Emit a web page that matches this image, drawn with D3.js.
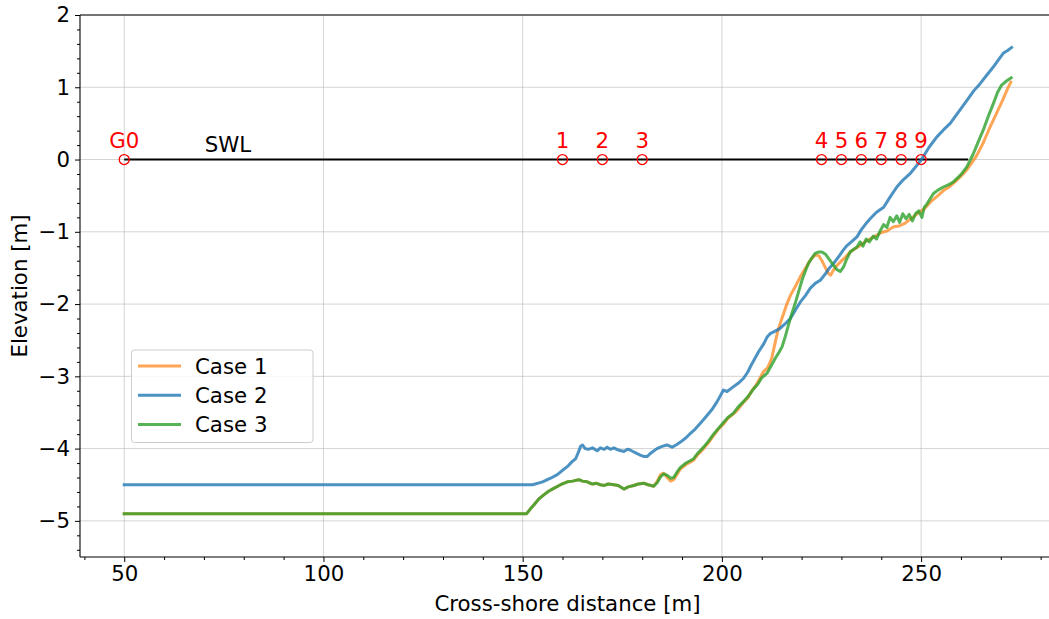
<!DOCTYPE html>
<html><head><meta charset="utf-8">
<script src="https://cdn.jsdelivr.net/npm/d3@7"></script>
<style>body{margin:0;background:#fff}svg{display:block}text{font-family:"DejaVu Sans",sans-serif}</style>
</head><body><svg id="c" width="1049" height="619"></svg>
<script>
const case1X = [50,151,152,152.8,154,155.3,156.5,157.8,159.5,161.2,162.5,164.1,165,166.2,167.5,168.5,169.5,170.5,171.5,172.9,174,175.4,176.5,177.9,179,180.4,181.5,182.9,183.8,184.6,185.4,186.3,187.1,187.9,188.8,189.6,191,192.9,194,195.4,196.6,197.9,199,200.4,201.5,202.9,204,205.4,206.5,207.5,208.5,209.5,210.5,211.5,212.5,213.3,214,214.8,215.5,216.3,217.2,218.4,219.7,221,222.2,223.4,224.3,225.1,226,226.8,227.3,228,228.8,229.7,231,232.2,233.5,235,236.4,237.5,238.8,240,241.4,243.1,244.5,246,248.1,249.5,250.8,252.5,254,255.6,257,258.5,260,261.5,262.8,263.9,265.5,267.3,269,270.6,271.7,272.5];
const case1Y = [-4.9,-4.9,-4.83,-4.78,-4.7,-4.64,-4.59,-4.55,-4.5,-4.46,-4.45,-4.43,-4.45,-4.46,-4.49,-4.48,-4.5,-4.51,-4.49,-4.5,-4.51,-4.56,-4.53,-4.51,-4.49,-4.48,-4.5,-4.52,-4.45,-4.36,-4.34,-4.4,-4.45,-4.43,-4.35,-4.28,-4.22,-4.16,-4.08,-4.0,-3.92,-3.82,-3.74,-3.66,-3.58,-3.52,-3.46,-3.36,-3.3,-3.2,-3.13,-3.03,-2.93,-2.88,-2.75,-2.55,-2.38,-2.24,-2.13,-2.0,-1.88,-1.76,-1.62,-1.5,-1.39,-1.32,-1.33,-1.4,-1.5,-1.58,-1.6,-1.53,-1.47,-1.42,-1.35,-1.28,-1.23,-1.18,-1.12,-1.09,-1.05,-1.01,-0.99,-0.93,-0.92,-0.88,-0.79,-0.73,-0.68,-0.58,-0.51,-0.43,-0.38,-0.31,-0.23,-0.14,-0.04,0.05,0.22,0.45,0.65,0.84,0.98,1.07];

const case2X = [50,152.5,155,157,158.7,160,161.2,162.4,163.3,164,164.5,165,165.7,166.5,167.5,168.7,169.5,170.5,171.2,172,172.9,174,175.4,176.3,177,178,179.5,180.5,181.2,182.2,183.7,185,186.2,187.5,188.5,189.6,191,192.1,193.3,194.6,196,197.5,198.8,199.7,200.4,201.3,202.5,204,205.4,206.5,207.3,208,209.2,210.5,211.3,212.1,213.5,214.5,215.5,216.3,217.2,218.5,219.7,221,222.2,223.5,224.7,226,227,228,229.5,230.5,231.4,232.7,233.9,235,236.4,237.2,238.8,240.6,242.2,243.9,245.5,247.3,248.8,250.2,252,253.9,255.6,257.3,259.4,261.5,263.2,264.8,266.5,268.1,269.4,270.6,271.7,272.7];
const case2Y = [-4.5,-4.5,-4.46,-4.41,-4.36,-4.3,-4.25,-4.18,-4.14,-4.05,-3.97,-3.95,-4.0,-4.01,-3.99,-4.03,-3.99,-4.01,-3.98,-4.01,-3.99,-4.02,-4.04,-4.01,-4.02,-4.05,-4.09,-4.11,-4.11,-4.06,-4.0,-3.97,-3.95,-3.98,-3.95,-3.91,-3.85,-3.79,-3.73,-3.65,-3.56,-3.46,-3.35,-3.26,-3.19,-3.21,-3.16,-3.1,-3.03,-2.94,-2.85,-2.78,-2.66,-2.55,-2.46,-2.41,-2.37,-2.34,-2.29,-2.25,-2.2,-2.08,-1.97,-1.88,-1.78,-1.71,-1.67,-1.58,-1.5,-1.44,-1.33,-1.25,-1.19,-1.13,-1.07,-0.97,-0.87,-0.82,-0.73,-0.66,-0.52,-0.38,-0.28,-0.19,-0.09,0.01,0.17,0.31,0.41,0.5,0.66,0.82,0.95,1.05,1.17,1.28,1.38,1.47,1.51,1.55];

const case3X = [50,151,152,152.8,154,155.3,156.5,157.8,159.5,161.2,162.5,164.1,165,166.2,167.5,168.5,169.5,170.5,171.5,172.9,174,175.4,176.5,177.9,179,180.4,181.5,182.9,183.8,184.6,185.4,186.3,187.1,187.9,188.8,189.6,191,192.9,194,195.4,196.6,197.9,199,200.4,201.5,202.9,204,205.4,206.7,208,209,210,211.3,212.4,213.4,214.3,215.1,215.9,216.7,217.5,218.4,219.3,220.1,220.9,221.7,222.6,223.4,224.2,225.1,226,226.8,228,228.8,229.7,230.5,231.3,232.2,233.1,233.9,234.7,235.4,236.2,237,238,238.8,239.6,240.6,241.4,242.2,243,243.9,244.6,245.4,246.2,247,247.8,248.6,249.4,250.2,250.8,251.4,252.3,253.1,254.3,255.6,256.8,258.1,260,261.5,262.3,263.1,264.3,265.6,266.8,268.1,269.2,270.2,271.5,272.6];
const case3Y = [-4.9,-4.9,-4.83,-4.78,-4.7,-4.64,-4.59,-4.55,-4.5,-4.46,-4.45,-4.43,-4.45,-4.46,-4.49,-4.48,-4.5,-4.51,-4.49,-4.5,-4.51,-4.56,-4.53,-4.51,-4.49,-4.48,-4.5,-4.52,-4.47,-4.39,-4.35,-4.37,-4.41,-4.4,-4.32,-4.26,-4.2,-4.14,-4.06,-3.98,-3.9,-3.8,-3.73,-3.64,-3.57,-3.51,-3.43,-3.35,-3.27,-3.17,-3.11,-3.02,-2.96,-2.85,-2.75,-2.67,-2.59,-2.45,-2.29,-2.14,-1.99,-1.82,-1.67,-1.55,-1.44,-1.36,-1.3,-1.28,-1.28,-1.31,-1.37,-1.46,-1.52,-1.55,-1.49,-1.38,-1.28,-1.24,-1.21,-1.14,-1.2,-1.1,-1.14,-1.06,-1.1,-1.0,-0.9,-0.94,-0.8,-0.86,-0.78,-0.87,-0.75,-0.82,-0.76,-0.85,-0.75,-0.71,-0.8,-0.66,-0.62,-0.54,-0.47,-0.42,-0.38,-0.35,-0.31,-0.21,-0.1,-0.01,0.08,0.24,0.41,0.59,0.77,0.93,1.03,1.09,1.13];

const caseNames = ["Case 1","Case 2","Case 3"];
const caseColors = ["#ff7f0e","#1f77b4","#2ca02c"];
const caseAlpha = [0.7,0.8,0.8];

const gaugeX = [50,160,170,180,225,230,235,240,245,250];
const gaugeLabels = ["G0","1","2","3","4","5","6","7","8","9"];
const swlX = [50,261.8];
const xTicks = [50,100,150,200,250];
const yTicks = [-5,-4,-3,-2,-1,0,1,2];

const svg = d3.select("#c");
const L = 80, R = 1055, T = 15, B = 557;
const x = d3.scaleLinear().domain([38.9,283.6]).range([L,R]);
const y = d3.scaleLinear().domain([-5.5,2]).range([B,T]);
const FS = "21.3px";

svg.append("defs").append("clipPath").attr("id","clip").append("rect").attr("x",L).attr("y",T).attr("width",R-L).attr("height",B-T);

// grid
const g = svg.append("g");
g.selectAll(".gx").data(xTicks).join("line").attr("x1",d=>x(d)).attr("x2",d=>x(d)).attr("y1",T).attr("y2",B).attr("stroke","#b0b0b0").attr("stroke-opacity",0.55).attr("stroke-width",1);
g.selectAll(".gy").data(yTicks).join("line").attr("x1",L).attr("x2",R).attr("y1",d=>y(d)).attr("y2",d=>y(d)).attr("stroke","#b0b0b0").attr("stroke-opacity",0.55).attr("stroke-width",1);

const plot = svg.append("g").attr("clip-path","url(#clip)");
// SWL
plot.append("line").attr("x1",x(swlX[0])).attr("x2",x(swlX[1])).attr("y1",y(0)).attr("y2",y(0)).attr("stroke","#000").attr("stroke-width",2);

const line = d3.line().x(d=>x(d[0])).y(d=>y(d[1]));
const series = [[case1X,case1Y],[case2X,case2Y],[case3X,case3Y]];
series.forEach((s,i)=>{
  plot.append("path").datum(s[0].map((v,j)=>[v,s[1][j]])).attr("d",line)
    .attr("fill","none").attr("stroke",caseColors[i]).attr("stroke-opacity",caseAlpha[i])
    .attr("stroke-width",3).attr("stroke-linejoin","round").attr("stroke-linecap","square");
});

// gauges
plot.selectAll(".gc").data(gaugeX).join("circle").attr("cx",d=>x(d)).attr("cy",y(0)).attr("r",5)
  .attr("fill","none").attr("stroke","red").attr("stroke-width",1.3);
svg.selectAll(".gl").data(gaugeX).join("text").attr("x",d=>x(d)).attr("y",y(0.155))
  .attr("text-anchor","middle").attr("fill","red").style("font-size",FS).text((d,i)=>gaugeLabels[i]);
svg.append("text").attr("x",x(70.2)).attr("y",y(0.1)).attr("fill","#000").style("font-size",FS).text("SWL");

// axes
svg.append("g").attr("transform",`translate(0,${B})`)
  .call(d3.axisBottom(x).tickValues(xTicks).tickSize(5).tickPadding(4).tickFormat(d3.format("d")));
const xMinor = d3.range(40,290,10).filter(v=>!xTicks.includes(v));
svg.append("g").attr("transform",`translate(0,${B})`).call(d3.axisBottom(x).tickValues(xMinor).tickSize(3).tickFormat(""));
svg.append("g").attr("transform",`translate(${L},0)`)
  .call(d3.axisLeft(y).tickValues(yTicks).tickSize(5).tickPadding(5).tickFormat(d=>d<0?"\u2212"+Math.abs(d):d));
const yMinor = d3.range(-5.4,2.0,0.2).map(v=>Math.round(v*10)/10).filter(v=>!yTicks.includes(v));
svg.append("g").attr("transform",`translate(${L},0)`).call(d3.axisLeft(y).tickValues(yMinor).tickSize(3).tickFormat(""));
svg.selectAll(".domain").remove();
svg.selectAll(".tick line").attr("stroke","#000").attr("stroke-width",1);
svg.selectAll(".tick text").style("font-size",FS).attr("fill","#000").style("font-family","DejaVu Sans");
// spines
svg.append("line").attr("x1",L).attr("x2",R).attr("y1",B).attr("y2",B).attr("stroke","#000").attr("stroke-width",1.1);
svg.append("line").attr("x1",L).attr("x2",R).attr("y1",T).attr("y2",T).attr("stroke","#000").attr("stroke-width",1.1);
svg.append("line").attr("x1",L).attr("x2",L).attr("y1",T).attr("y2",B).attr("stroke","#000").attr("stroke-width",1.1);

svg.append("text").attr("x",(L+R)/2).attr("y",611).attr("text-anchor","middle").style("font-size",FS).text("Cross-shore distance [m]");
svg.append("text").attr("transform",`translate(27,${(T+B)/2}) rotate(-90)`).attr("text-anchor","middle").style("font-size",FS).text("Elevation [m]");

// legend
const lg = svg.append("g");
lg.append("rect").attr("x",131.5).attr("y",350).attr("width",181.5).attr("height",92.5).attr("rx",3)
  .attr("fill","#fff").attr("fill-opacity",0.8).attr("stroke","#cccccc").attr("stroke-width",1);
caseNames.forEach((n,i)=>{
  const yy = 366 + i*29.2;
  lg.append("line").attr("x1",138).attr("x2",181).attr("y1",yy).attr("y2",yy).attr("stroke",caseColors[i]).attr("stroke-opacity",caseAlpha[i]).attr("stroke-width",3);
  lg.append("text").attr("x",195).attr("y",yy+7.5).style("font-size",FS).text(n);
});
</script></body></html>
